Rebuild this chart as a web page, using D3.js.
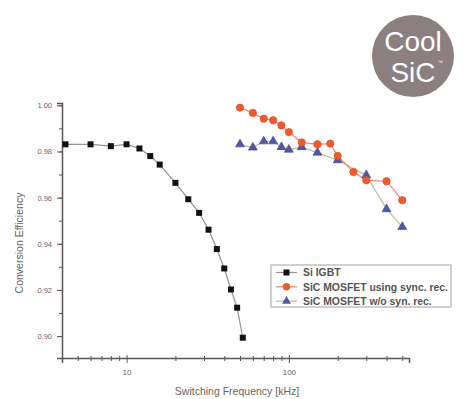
<!DOCTYPE html>
<html>
<head>
<meta charset="utf-8">
<script src="https://cdnjs.cloudflare.com/ajax/libs/d3/7.8.5/d3.min.js"></script>
<style>
  body { margin: 0; background: #fff; }
  text { font-family: "Liberation Sans", Arial, sans-serif; }
</style>
</head>
<body>
<div id="chart"></div>
<script>
// Si IGBT
const igbtFreq = [4.2, 6, 8, 10, 12, 14, 16, 20, 24, 28, 32, 36, 40, 44, 48, 52];
const igbtEff = [0.9831, 0.9831, 0.9823, 0.9831, 0.9813, 0.9780, 0.9743, 0.9664, 0.9593, 0.9534, 0.9461, 0.9377, 0.9293, 0.9202, 0.9123, 0.8993];
// SiC MOSFET using sync. rec.
const syncFreq = [50, 60, 70, 80, 90, 100, 120, 150, 180, 200, 250, 300, 400, 500];
const syncEff = [0.9990, 0.9967, 0.9942, 0.9935, 0.9913, 0.9884, 0.9839, 0.9831, 0.9834, 0.9781, 0.9711, 0.9675, 0.9671, 0.9589];
// SiC MOSFET w/o syn. rec.
const noSyncFreq = [50, 60, 70, 80, 90, 100, 120, 150, 200, 300, 400, 500];
const noSyncEff = [0.9831, 0.9817, 0.9844, 0.9844, 0.9819, 0.9808, 0.9819, 0.9795, 0.9762, 0.9697, 0.9550, 0.9473];

const yTicks = [0.90, 0.92, 0.94, 0.96, 0.98, 1.00];
const xTicks = [10, 100];
const legendLabels = ['Si IGBT', 'SiC MOSFET using sync. rec.', 'SiC MOSFET w/o syn. rec.'];

const W = 464, H = 399;
const svg = d3.select('#chart').append('svg')
  .attr('width', W)
  .attr('height', H);

const x = d3.scaleLog().domain([4, 550]).range([62, 409]);
const y = d3.scaleLinear().domain([0.8905, 1.001]).range([358, 103]);

const axisColor = '#5a5555';

// y axis
const yMinor = d3.range(0.89, 1.0051, 0.01).filter(v => v >= 0.8905);
svg.append('g')
  .attr('transform', 'translate(62,0)')
  .call(d3.axisLeft(y).tickValues(yMinor).tickSize(3).tickFormat(''))
  .call(g => g.select('.domain').remove())
  .selectAll('line').attr('stroke', axisColor);

svg.append('g')
  .attr('transform', 'translate(62,0)')
  .call(d3.axisLeft(y).tickValues(yTicks).tickSize(5).tickPadding(5).tickFormat(d3.format('.2f')))
  .call(g => g.select('.domain').attr('stroke', axisColor).attr('stroke-width', 1.5))
  .call(g => g.selectAll('line').attr('stroke', axisColor))
  .call(g => g.selectAll('text').attr('fill', '#666').attr('font-size', 7.5));

// x axis
const xMinor = [4, 5, 6, 7, 8, 9, 20, 30, 40, 50, 60, 70, 80, 90, 200, 300, 400, 500];
svg.append('g')
  .attr('transform', 'translate(0,358)')
  .call(d3.axisBottom(x).tickValues(xMinor).tickSize(3).tickFormat(''))
  .call(g => g.select('.domain').remove())
  .selectAll('line').attr('stroke', axisColor).attr('y1', -2);

svg.append('g')
  .attr('transform', 'translate(0,358)')
  .call(d3.axisBottom(x).tickValues(xTicks).tickSize(5).tickPadding(6).tickFormat(d3.format('d')))
  .call(g => g.select('.domain').attr('stroke', axisColor).attr('stroke-width', 1.5))
  .call(g => g.selectAll('line').attr('stroke', axisColor).attr('y1', -3))
  .call(g => g.selectAll('text').attr('fill', '#666').attr('font-size', 8));

// axis titles
svg.append('text')
  .attr('x', 237).attr('y', 395)
  .attr('text-anchor', 'middle')
  .attr('font-size', 10.5)
  .attr('fill', '#666')
  .text('Switching Frequency [kHz]');

svg.append('text')
  .attr('transform', 'translate(23,243) rotate(-90)')
  .attr('text-anchor', 'middle')
  .attr('font-size', 10.5)
  .attr('fill', '#666')
  .text('Conversion Efficiency');

const line = d3.line().x(d => x(d[0])).y(d => y(d[1]));

const igbt = d3.zip(igbtFreq, igbtEff);
const sync = d3.zip(syncFreq, syncEff);
const noSync = d3.zip(noSyncFreq, noSyncEff);

svg.append('path').datum(igbt).attr('d', line)
  .attr('fill', 'none').attr('stroke', '#9a9290').attr('stroke-width', 1.2);
svg.append('path').datum(noSync).attr('d', line)
  .attr('fill', 'none').attr('stroke', '#b5c29c').attr('stroke-width', 1.2);
svg.append('path').datum(sync).attr('d', line)
  .attr('fill', 'none').attr('stroke', '#f0876a').attr('stroke-width', 1.2);

const tri = d3.symbol().type(d3.symbolTriangle).size(34);

svg.selectAll('.tri').data(noSync).enter().append('path')
  .attr('class', 'tri')
  .attr('transform', d => 'translate(' + x(d[0]) + ',' + y(d[1]) + ')')
  .attr('d', tri)
  .attr('fill', '#5257a6').attr('stroke', '#3d3f80').attr('stroke-width', 0.6);

svg.selectAll('.dot').data(sync).enter().append('circle')
  .attr('class', 'dot')
  .attr('cx', d => x(d[0])).attr('cy', d => y(d[1]))
  .attr('r', 3.7)
  .attr('fill', '#f25a2c').attr('stroke', '#d8492a').attr('stroke-width', 0.6);

svg.selectAll('.sq').data(igbt).enter().append('rect')
  .attr('class', 'sq')
  .attr('x', d => x(d[0]) - 3).attr('y', d => y(d[1]) - 3)
  .attr('width', 6).attr('height', 6)
  .attr('fill', '#111');

// legend
const lg = svg.append('g').attr('transform', 'translate(271,265)');
lg.append('rect')
  .attr('width', 180).attr('height', 42)
  .attr('fill', '#fff').attr('stroke', '#b8b0ae').attr('stroke-width', 1.2);

const legendColors = ['#9a9290', '#f0876a', '#b5c29c'];
legendLabels.forEach((label, i) => {
  const ly = 7.5 + i * 14.3;
  lg.append('line')
    .attr('x1', 5).attr('x2', 26).attr('y1', ly).attr('y2', ly)
    .attr('stroke', legendColors[i]).attr('stroke-width', 1.2);
  if (i === 0) {
    lg.append('rect').attr('x', 12.5).attr('y', ly - 3).attr('width', 6).attr('height', 6).attr('fill', '#111');
  } else if (i === 1) {
    lg.append('circle').attr('cx', 15.5).attr('cy', ly).attr('r', 3.7).attr('fill', '#f25a2c');
  } else {
    lg.append('path').attr('transform', 'translate(15.5,' + ly + ')').attr('d', tri).attr('fill', '#5257a6');
  }
  lg.append('text')
    .attr('x', 32).attr('y', ly + 3.8)
    .attr('font-size', 10.4)
    .attr('font-weight', 'bold')
    .attr('fill', '#555')
    .text(label);
});

// CoolSiC badge
const badge = svg.append('g').attr('transform', 'translate(413,56)');
badge.append('circle').attr('r', 41).attr('fill', '#8b807f');
badge.append('text')
  .attr('y', -5).attr('text-anchor', 'middle')
  .attr('font-family', '"Open Sans", sans-serif')
  .attr('font-size', 28).attr('fill', '#fff')
  .text('Cool');
badge.append('text')
  .attr('y', 26).attr('text-anchor', 'middle')
  .attr('font-family', '"Open Sans", sans-serif')
  .attr('font-size', 28).attr('fill', '#fff')
  .text('SiC');
badge.append('text')
  .attr('x', 25).attr('y', 8)
  .attr('font-size', 5).attr('fill', '#fff')
  .text('™');
</script>
</body>
</html>
